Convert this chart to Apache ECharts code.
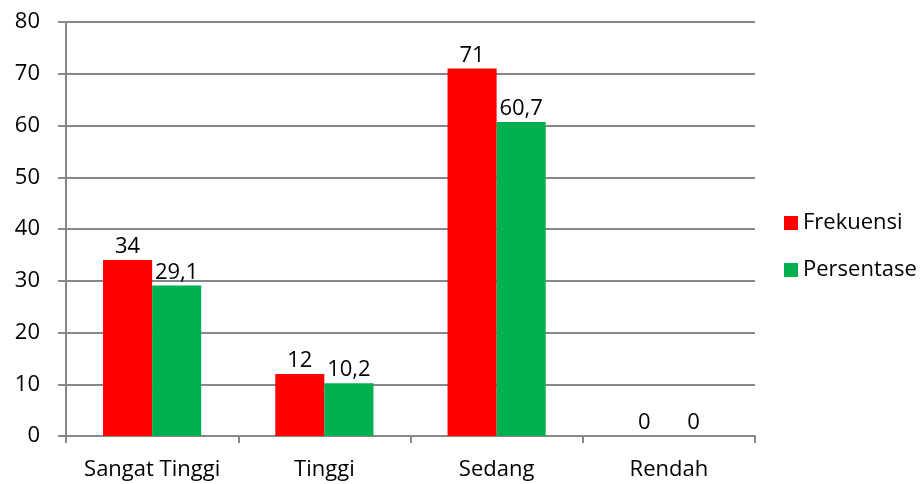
<!DOCTYPE html>
<html>
<head>
<meta charset="utf-8">
<script src="https://cdn.jsdelivr.net/npm/echarts@6/dist/echarts.min.js"></script>
<style>
  html, body { margin: 0; padding: 0; background: #fff; }
  #chart { width: 924px; height: 484px; }
</style>
</head>
<body>
<div id="chart"></div>
<script>
// kategori dan nilai
const categories = ['Sangat Tinggi', 'Tinggi', 'Sedang', 'Rendah'];
const frekuensi = [34, 12, 71, 0];
const persentase = ['29,1', '10,2', '60,7', '0'];
const persentaseValue = [29.1, 10.2, 60.7, 0];
const yTicks = [0, 10, 20, 30, 40, 50, 60, 70, 80];

const font = '"Open Sans", "Noto Sans", sans-serif';
const chart = echarts.init(document.getElementById('chart'));

const labelStyle = {
    show: true,
    position: 'top',
    distance: 2,
    color: '#000',
    fontSize: 22,
    fontFamily: font
};

const option = {
    animation: false,
    color: ['#FF0000', '#00B050'],
    grid: { left: 66, right: 169, top: 22, bottom: 48 },
    legend: {
        orient: 'vertical',
        left: 779,
        top: 207,
        itemWidth: 14,
        itemHeight: 14,
        itemGap: 25,
        icon: 'rect',
        textStyle: { fontSize: 22, fontFamily: font, color: '#000' },
        data: ['Frekuensi', 'Persentase']
    },
    xAxis: {
        type: 'category',
        data: categories,
        axisLine: { lineStyle: { color: '#888', width: 2 } },
        axisTick: { show: true, interval: 0, length: 7, lineStyle: { color: '#888', width: 2 } },
        axisLabel: { interval: 0, color: '#000', fontSize: 22, fontFamily: font, margin: 23 }
    },
    yAxis: {
        type: 'value',
        min: yTicks[0],
        max: yTicks[yTicks.length - 1],
        interval: 10,
        axisLine: { show: true, lineStyle: { color: '#888', width: 2 } },
        axisTick: { show: true, length: 8, lineStyle: { color: '#888', width: 2 } },
        axisLabel: { color: '#000', fontSize: 22, fontFamily: font, margin: 26 },
        splitLine: { show: true, lineStyle: { color: '#888', width: 2 } }
    },
    series: [
        {
            name: 'Frekuensi',
            type: 'bar',
            data: frekuensi,
            barGap: '0%',
            barCategoryGap: '43%',
            label: labelStyle
        },
        {
            name: 'Persentase',
            type: 'bar',
            data: persentaseValue,
            label: Object.assign({}, labelStyle, {
                formatter: (p) => persentase[p.dataIndex]
            })
        }
    ]
};

chart.setOption(option);
</script>
</body>
</html>
